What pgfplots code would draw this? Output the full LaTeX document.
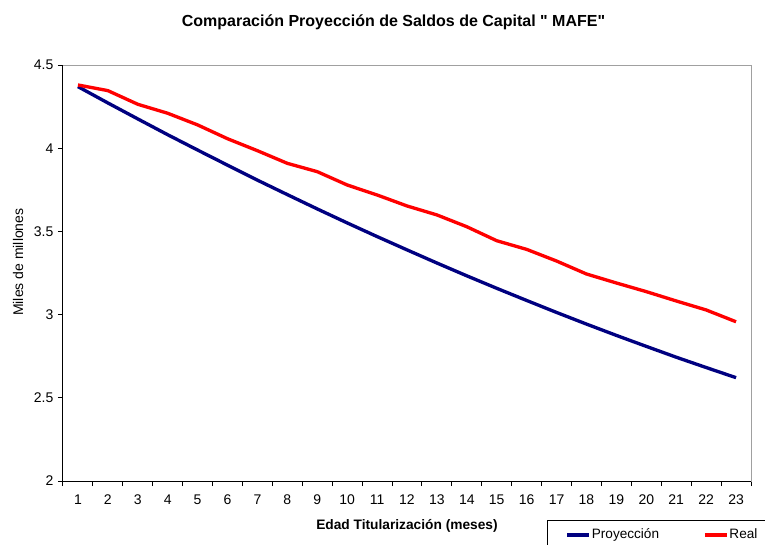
\documentclass[border=0pt]{standalone}
\usepackage{pgfplots}
\pgfplotsset{compat=1.18}
\usepackage{fontspec}
\setmainfont{Liberation Sans}[Ligatures=TeXOff]

\definecolor{proy}{RGB}{0,0,128}
\definecolor{real}{RGB}{255,0,0}
\definecolor{frame}{RGB}{160,160,160}

\begin{document}
\begin{tikzpicture}
\useasboundingbox (0,0) rectangle (573.75pt,408pt);
\clip (0,0) rectangle (573.75pt,408pt);
\begin{axis}[
  at={(47.25pt,47.25pt)}, anchor=south west,
  scale only axis, width=516pt, height=312pt,
  xmin=0.5, xmax=23.5, ymin=2, ymax=4.5,
  xtick={1,...,23},
  minor xtick={0.5,1.5,...,23.5},
  ytick={2,2.5,3,3.5,4,4.5},
  tick pos=left, tick align=outside,
  major tick length=3.75pt, minor tick length=3.75pt,
  major x tick style={draw=none},
  tick style={black, line width=0.75pt},
  axis line style={frame, line width=0.75pt},
  /pgf/number format/assume math mode=true,
  ticklabel style={font=\fontsize{10.5}{12.6}\selectfont},
  xticklabel style={yshift=-3.25pt},
  title={Comparación Proyección de Saldos de Capital " MAFE"},
  title style={font=\fontsize{12}{14.4}\selectfont\bfseries,
    at={(axis description cs:0.5,1)}, anchor=center,
    yshift=26.25pt, xshift=-10.1pt},
  xlabel={Edad Titularización (meses)},
  xlabel style={font=\fontsize{10.3}{12.4}\selectfont\bfseries,
    at={(axis description cs:0.5,0)}, anchor=center, yshift=-34pt},
  ylabel={Miles de millones},
  ylabel style={font=\fontsize{10.5}{12.6}\selectfont,
    at={(axis description cs:-0.0654,0.526)}, anchor=center},
  legend columns=2,
  legend image code/.code={\draw[#1, line width=2.5pt] (0pt,0pt) -- (16.5pt,0pt);},
  legend style={at={(axis description cs:0.7035,-0.0938)}, anchor=north west,
    draw=black, line width=0.75pt, font=\fontsize{10.2}{12.2}\selectfont,
    inner xsep=13.5pt, inner ysep=5.5pt,
    nodes={inner sep=0.75pt},
    /tikz/every even column/.append style={column sep=32.25pt}},
  after end axis/.code={
    \draw[black, line width=0.75pt] (rel axis cs:0,1) -- (rel axis cs:0,0) -- (rel axis cs:1,0);
  },
]
% Proyección
\addplot[proy, line width=2.5pt, line join=round] coordinates {
  (1,4.370) (2,4.272) (3,4.176) (4,4.081) (5,3.989) (6,3.898)
  (7,3.808) (8,3.721) (9,3.635) (10,3.551) (11,3.469) (12,3.389)
  (13,3.310) (14,3.233) (15,3.158) (16,3.085) (17,3.013) (18,2.943)
  (19,2.875) (20,2.809) (21,2.744) (22,2.682) (23,2.621)
};
\addlegendentry{Proyección}
% Real
\addplot[real, line width=2.5pt, line join=round] coordinates {
  (1,4.380) (2,4.346) (3,4.264) (4,4.210) (5,4.140) (6,4.057)
  (7,3.985) (8,3.909) (9,3.859) (10,3.779) (11,3.719) (12,3.653)
  (13,3.599) (14,3.528) (15,3.444) (16,3.392) (17,3.322) (18,3.244)
  (19,3.190) (20,3.138) (21,3.082) (22,3.028) (23,2.957)
};
\addlegendentry{Real}
\end{axis}
\end{tikzpicture}
\end{document}
